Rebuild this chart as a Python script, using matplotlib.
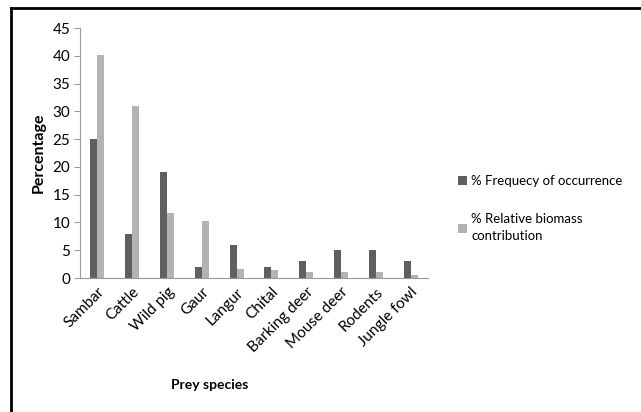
import matplotlib

matplotlib.use("Agg")
import matplotlib.pyplot as plt
from matplotlib.lines import Line2D
import numpy as np

species = ["Sambar", "Cattle", "Wild pig", "Gaur", "Langur", "Chital",
           "Barking deer", "Mouse deer", "Rodents", "Jungle fowl"]
freq = [25, 8, 19, 2, 6, 2, 3, 5, 5, 3]
biomass = [40.2, 31, 11.7, 10.2, 1.6, 1.5, 1.1, 1.1, 1.1, 0.5]

plt.rcParams["font.family"] = ["Lato", "DejaVu Sans"]

fig = plt.figure(figsize=(6.41, 4.12), dpi=100)
ax = fig.add_axes([80 / 641, 1 - 278 / 412, 348 / 641, 250 / 412])

x = np.arange(len(species))
w = 0.2
ax.bar(x - w / 2, freq, w, color="#5f5f5f", label="% Frequecy of occurrence")
ax.bar(x + w / 2, biomass, w, color="#b3b3b3", label="% Relative biomass\ncontribution")

ax.set_xlim(-0.5, len(species) - 0.5)
ax.set_ylim(0, 45)
ax.set_yticks(range(0, 46, 5))
ax.set_xticks(x)
ax.set_xticklabels(species, rotation=45, ha="right", rotation_mode="anchor", fontsize=11)
ax.tick_params(axis="y", labelsize=11, color="#999999", length=4, pad=3)
ax.tick_params(axis="x", length=0, pad=5)
for s in ["top", "right"]:
    ax.spines[s].set_visible(False)
ax.spines["left"].set_color("#999999")
ax.spines["bottom"].set_color("#999999")

ax.set_ylabel("Percentage", fontsize=11.5, fontweight="bold", labelpad=5)
fig.text(210 / 641, 1 - 385 / 412, "Prey species", fontsize=10, fontweight="bold",
         ha="center", va="center")

leg = fig.legend(loc="upper left", bbox_to_anchor=(446 / 641, 1 - 163 / 412), frameon=False,
                 fontsize=9.5, handlelength=0.7, handleheight=0.7, handletextpad=0.3,
                 labelspacing=2.0)
for t in leg.get_texts():
    t.set_linespacing(1.5)

# outer frame (only left and top edges visible)
fig.add_artist(Line2D([11 / 641, 11 / 641], [0, 1 - 8 / 412], color="black", lw=2,
                      transform=fig.transFigure))
fig.add_artist(Line2D([11 / 641, 1], [1 - 8 / 412, 1 - 8 / 412], color="black", lw=2,
                      transform=fig.transFigure))

fig.savefig("out.png", dpi=100)
